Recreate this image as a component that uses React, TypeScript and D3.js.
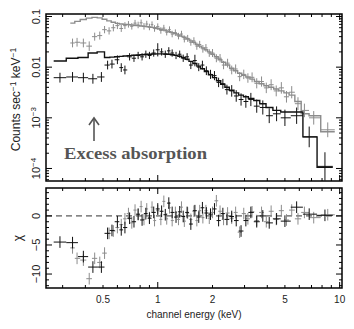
import * as d3 from 'd3'

// spectrum 1 (grey, upper)
const grayEnergy = [0.34, 0.36, 0.39, 0.42, 0.45, 0.48, 0.51, 0.54, 0.57, 0.60, 0.63, 0.66, 0.69, 0.72, 0.75, 0.78, 0.81, 0.84, 0.87, 0.90, 0.93, 0.96, 1.00, 1.04, 1.08, 1.12, 1.16, 1.20, 1.25, 1.30, 1.35, 1.40, 1.46, 1.52, 1.58, 1.64, 1.70, 1.77, 1.84, 1.92, 2.00, 2.10, 2.20, 2.30, 2.42, 2.55, 2.68, 2.82, 2.97, 3.13, 3.30, 3.50, 3.72, 3.95, 4.20, 4.48, 4.78, 5.10, 5.45, 5.90, 6.40, 7.20, 8.60]
const grayRate = [0.030, 0.031, 0.030, 0.026, 0.040, 0.042, 0.055, 0.052, 0.060, 0.066, 0.058, 0.066, 0.070, 0.064, 0.074, 0.068, 0.075, 0.064, 0.071, 0.062, 0.069, 0.058, 0.063, 0.053, 0.059, 0.049, 0.055, 0.045, 0.048, 0.041, 0.045, 0.036, 0.037, 0.031, 0.033, 0.026, 0.028, 0.023, 0.024, 0.019, 0.019, 0.015, 0.015, 0.011, 0.012, 0.0088, 0.0092, 0.0065, 0.0072, 0.0061, 0.0063, 0.0048, 0.0052, 0.0039, 0.0045, 0.0034, 0.0039, 0.0026, 0.0032, 0.0019, 0.0014, 0.0010, 0.00058]
const grayErr = [0.22, 0.22, 0.22, 0.24, 0.2, 0.2, 0.18, 0.18, 0.18, 0.17, 0.17, 0.17, 0.16, 0.16, 0.16, 0.16, 0.16, 0.16, 0.16, 0.16, 0.16, 0.16, 0.16, 0.16, 0.16, 0.16, 0.16, 0.16, 0.16, 0.16, 0.16, 0.17, 0.17, 0.17, 0.18, 0.18, 0.18, 0.19, 0.19, 0.19, 0.2, 0.2, 0.21, 0.21, 0.22, 0.22, 0.23, 0.23, 0.24, 0.24, 0.25, 0.26, 0.26, 0.27, 0.28, 0.28, 0.3, 0.3, 0.32, 0.34, 0.36, 0.36, 0.4]
const grayModel = [0.074, 0.080, 0.087, 0.093, 0.096, 0.094, 0.088, 0.082, 0.077, 0.073, 0.071, 0.070, 0.069, 0.068, 0.067, 0.066, 0.065, 0.064, 0.063, 0.062, 0.061, 0.060, 0.058, 0.056, 0.054, 0.052, 0.050, 0.048, 0.046, 0.043, 0.041, 0.039, 0.036, 0.033, 0.031, 0.028, 0.026, 0.024, 0.022, 0.020, 0.018, 0.016, 0.014, 0.0125, 0.011, 0.0095, 0.0085, 0.0076, 0.0069, 0.0064, 0.0058, 0.0052, 0.0047, 0.0043, 0.0040, 0.0037, 0.0034, 0.0031, 0.0028, 0.0021, 0.0012, 0.0011, 0.00053]
const grayChi = [-5.5, -7.3, -7.6, -10.8, -7.3, -8.0, -6.4, -3.0, -2.6, -2.0, -1.5, -0.5, 0.4, -1.2, 1.0, 0.2, 1.6, -0.6, 1.2, -0.3, 1.5, -0.8, 0.9, -0.6, 2.5, -0.5, 1.4, -0.8, 0.6, -0.6, 1.5, -0.9, 0.5, -0.6, 0.8, -0.8, 0.9, -0.3, 0.9, -0.4, 0.6, 2.6, 0.8, -0.6, 0.5, -0.4, 0.6, -2.8, 0.4, -0.5, 0.7, -0.8, 0.6, -1.0, 0.8, -0.6, 0.9, -0.7, 1.0, -0.5, 0.6, -0.3, 0.2]

// spectrum 2 (black, lower)
const blackEnergy = [0.29, 0.34, 0.39, 0.44, 0.49, 0.53, 0.56, 0.60, 0.63, 0.66, 0.70, 0.74, 0.78, 0.82, 0.86, 0.90, 0.95, 1.00, 1.05, 1.10, 1.15, 1.20, 1.26, 1.32, 1.38, 1.45, 1.52, 1.60, 1.68, 1.76, 1.85, 1.95, 2.05, 2.16, 2.28, 2.40, 2.55, 2.70, 2.87, 3.05, 3.25, 3.50, 3.78, 4.10, 4.50, 5.00, 5.80, 6.80, 8.30]
const blackRate = [0.0062, 0.0064, 0.0062, 0.0059, 0.0064, 0.011, 0.0115, 0.014, 0.0098, 0.0088, 0.016, 0.015, 0.017, 0.016, 0.018, 0.017, 0.019, 0.022, 0.020, 0.018, 0.021, 0.019, 0.017, 0.018, 0.015, 0.016, 0.011, 0.0135, 0.010, 0.011, 0.0085, 0.0072, 0.0068, 0.0050, 0.0047, 0.0036, 0.0034, 0.0027, 0.0023, 0.0021, 0.0023, 0.0017, 0.0016, 0.0011, 0.0012, 0.0010, 0.0011, 0.00042, 0.00011]
const blackErr = [0.25, 0.25, 0.25, 0.25, 0.25, 0.22, 0.22, 0.22, 0.22, 0.22, 0.18, 0.18, 0.18, 0.18, 0.18, 0.18, 0.18, 0.35, 0.18, 0.18, 0.18, 0.18, 0.18, 0.18, 0.18, 0.18, 0.2, 0.3, 0.2, 0.22, 0.22, 0.23, 0.23, 0.24, 0.25, 0.25, 0.3, 0.3, 0.32, 0.33, 0.35, 0.35, 0.38, 0.4, 0.4, 0.45, 0.45, 0.6, 0.9]
const blackModel = [0.0132, 0.0150, 0.0155, 0.019, 0.020, 0.0155, 0.0158, 0.016, 0.0163, 0.0166, 0.0169, 0.0172, 0.0174, 0.0176, 0.0178, 0.018, 0.0182, 0.0183, 0.0183, 0.0182, 0.018, 0.0176, 0.0171, 0.0164, 0.0155, 0.0143, 0.013, 0.0118, 0.0105, 0.0093, 0.0082, 0.0071, 0.0062, 0.0054, 0.0046, 0.0040, 0.0035, 0.0031, 0.0028, 0.0026, 0.0024, 0.0022, 0.0019, 0.0016, 0.0014, 0.0013, 0.0013, 0.00042, 0.000105]
const blackChi = [-4.5, -4.6, -7.0, -8.8, -8.8, -3.0, -2.5, -1.0, -2.4, -2.0, -0.4, -1.0, 0.3, -0.7, 0.4, -0.4, 0.6, 1.2, 0.8, 0.2, 2.2, 0.6, -0.2, 0.7, -0.1, 0.6, -1.4, 0.9, -0.2, 1.4, 0.5, 0.3, 1.2, -0.8, 0.4, -0.6, -0.1, -0.8, -2.6, -0.8, 0.6, -1.0, 0.0, -1.2, -0.5, -0.9, 1.5, 0.3, 0.1]

const xLabels = [0.5, 1, 2, 5, 10]
const rateLabels = [0.1, 0.01, 0.001, 0.0001]
const chiLabels = [0, -5, -10]

const GRAY = '#8c8c8c'
const BLACK = '#111'
const FONT = '"Liberation Sans", Arial, sans-serif'

const L = 46, R = 342
const T1 = 14, B1 = 181
const T2 = 188, B2 = 288

const x = d3.scaleLog().domain([0.243, 10.3]).range([L, R])
const yRate = d3.scaleLog().domain([5.66e-5, 0.112]).range([B1, T1])
const yChi = d3.scaleLinear().domain([-12.4, 4.8]).range([B2, T2])

function binEdges(energy: number[]) {
	return energy.map((e, i) => {
		const prev = i > 0 ? energy[i - 1] : null
		const next = i < energy.length - 1 ? energy[i + 1] : null
		const lo = prev ? Math.sqrt(e * prev) : (e * e) / Math.sqrt(e * next!)
		const hi = next ? Math.sqrt(e * next) : (e * e) / lo
		return { lo, hi }
	})
}

function stepPath(energy: number[], model: number[]) {
	const edges = binEdges(energy)
	const pts: [number, number][] = []
	edges.forEach((b, i) => {
		pts.push([b.lo, model[i]])
		pts.push([b.hi, model[i]])
	})
	return d3
		.line<[number, number]>()
		.x((d) => x(d[0]))
		.y((d) => yRate(d[1]))(pts)!
}

function Crosses({ energy, vals, err, color, res }: { energy: number[]; vals: number[]; err: number[] | null; color: string; res: boolean }) {
	const edges = binEdges(energy)
	return (
		<g stroke={color} strokeWidth={1} fill="none">
			{energy.map((e, i) => {
				const v = vals[i]
				const yc = res ? yChi(v) : yRate(v)
				const y0 = res ? yChi(v - 1) : yRate(v / (1 + err![i]))
				const y1 = res ? yChi(v + 1) : yRate(v * (1 + err![i]))
				return (
					<g key={i}>
						<line x1={x(edges[i].lo)} x2={x(edges[i].hi)} y1={yc} y2={yc} />
						<line x1={x(e)} x2={x(e)} y1={y0} y2={y1} />
					</g>
				)
			})}
		</g>
	)
}

function XTicks({ top, bottom }: { top: number; bottom: number }) {
	return (
		<g stroke="#000" strokeWidth={1}>
			{x.ticks().map((t, i) => {
				const major = Math.abs(Math.log10(t) - Math.round(Math.log10(t))) < 1e-6
				const len = major ? 6 : 3
				const px = x(t)
				return (
					<g key={i}>
						<line x1={px} x2={px} y1={bottom} y2={bottom - len} />
						<line x1={px} x2={px} y1={top} y2={top + len} />
					</g>
				)
			})}
		</g>
	)
}

function superLabel(v: number) {
	if (v >= 0.01) return <tspan>{String(v)}</tspan>
	const p = Math.round(Math.log10(v))
	return (
		<>
			<tspan>10</tspan>
			<tspan dy={-4} fontSize={8}>{'\u2212' + Math.abs(p)}</tspan>
		</>
	)
}

export default function App() {
	const rateTicks = yRate.ticks()
	const chiTicks = d3.range(-12, 5, 1)
	return (
		<svg width={354} height={329} style={{ position: 'absolute', left: 0, top: 0, background: '#fff' }} fontFamily={FONT}>
			<rect width={354} height={329} fill="#fff" />

			{/* top panel */}
			<path d={stepPath(grayEnergy, grayModel)} stroke={GRAY} strokeWidth={1.4} fill="none" />
			<Crosses energy={grayEnergy} vals={grayRate} err={grayErr} color={GRAY} res={false} />
			<path d={stepPath(blackEnergy, blackModel)} stroke={BLACK} strokeWidth={1.4} fill="none" />
			<Crosses energy={blackEnergy} vals={blackRate} err={blackErr} color={BLACK} res={false} />

			<g stroke="#000" strokeWidth={1}>
				{rateTicks.map((t, i) => {
					const major = Math.abs(Math.log10(t) - Math.round(Math.log10(t))) < 1e-6
					const len = major ? 6 : 3
					const py = yRate(t)
					return (
						<g key={i}>
							<line x1={L} x2={L + len} y1={py} y2={py} />
							<line x1={R} x2={R - len} y1={py} y2={py} />
						</g>
					)
				})}
			</g>
			<XTicks top={T1} bottom={B1} />
			<rect x={L} y={T1} width={R - L} height={B1 - T1} fill="none" stroke="#000" strokeWidth={1.5} />

			{rateLabels.map((v) => (
				<text key={v} transform={`translate(${L - 6},${yRate(v)}) rotate(-90)`} textAnchor="middle" fontSize={11} fill="#222">
					{superLabel(v)}
				</text>
			))}
			<text transform={`translate(20,${(T1 + B1) / 2 + 2}) rotate(-90)`} textAnchor="middle" fontSize={12} fill="#222">
				<tspan>Counts sec</tspan>
				<tspan dy={-4} fontSize={8.5}>{'\u22121'}</tspan>
				<tspan dy={4}> keV</tspan>
				<tspan dy={-4} fontSize={8.5}>{'\u22121'}</tspan>
			</text>

			{/* annotation */}
			<g stroke="#555" strokeWidth={1.6} fill="none">
				<line x1={94} x2={94} y1={141} y2={119} />
				<polyline points="89,125 94,118 99,125" />
			</g>
			<text x={64} y={159} textLength={143} lengthAdjust="spacingAndGlyphs" fontFamily='"Liberation Serif", "Times New Roman", serif' fontWeight="bold" fontSize={17} fill="#555">
				Excess absorption
			</text>

			{/* residual panel */}
			<line x1={L} x2={R} y1={yChi(0)} y2={yChi(0)} stroke="#333" strokeWidth={1} strokeDasharray="6,4" />
			<Crosses energy={grayEnergy} vals={grayChi} err={null} color={GRAY} res={true} />
			<Crosses energy={blackEnergy} vals={blackChi} err={null} color={BLACK} res={true} />

			<g stroke="#000" strokeWidth={1}>
				{chiTicks.map((t) => {
					const len = t % 5 === 0 ? 6 : 3
					const py = yChi(t)
					return (
						<g key={t}>
							<line x1={L} x2={L + len} y1={py} y2={py} />
							<line x1={R} x2={R - len} y1={py} y2={py} />
						</g>
					)
				})}
			</g>
			<XTicks top={T2} bottom={B2} />
			<rect x={L} y={T2} width={R - L} height={B2 - T2} fill="none" stroke="#000" strokeWidth={1.5} />

			{chiLabels.map((v) => (
				<text key={v} transform={`translate(${L - 6},${yChi(v)}) rotate(-90)`} textAnchor="middle" fontSize={11} fill="#222">
					{v < 0 ? '\u2212' + Math.abs(v) : String(v)}
				</text>
			))}
			<text transform={`translate(22,${(T2 + B2) / 2}) rotate(-90)`} textAnchor="middle" fontSize={12} fill="#222">
				χ
			</text>

			{xLabels.map((v) => (
				<text key={v} x={x(v)} y={303} textAnchor="middle" fontSize={10} fill="#222">
					{String(v)}
				</text>
			))}
			<text x={(L + R) / 2} y={318} textAnchor="middle" fontSize={10} fill="#222">
				channel energy (keV)
			</text>
		</svg>
	)
}
